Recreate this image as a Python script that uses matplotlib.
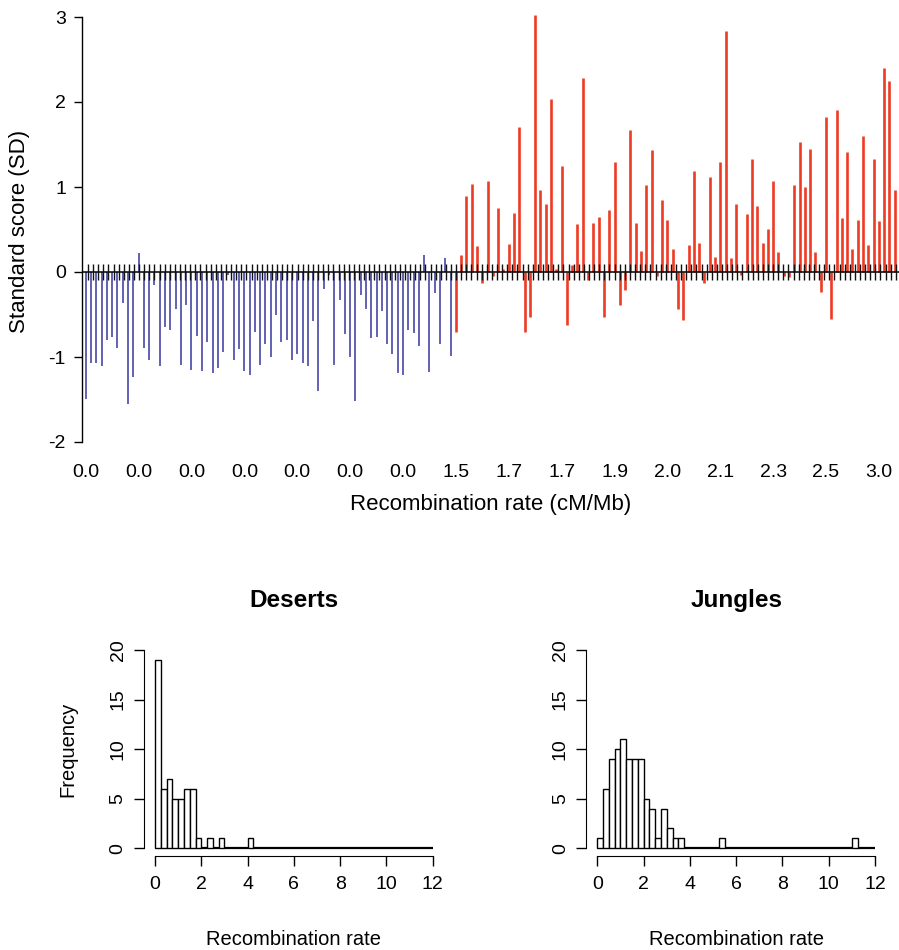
import matplotlib
matplotlib.use('Agg')
import matplotlib.pyplot as plt
import numpy as np

plt.rcParams['font.family'] = ['Liberation Sans', 'DejaVu Sans']

# standard scores, blue group (low recombination) then red group
blue_scores = [-1.49, -1.07, -1.07, -1.11, -0.80, -0.77, -0.89, -0.37, -1.55, -1.24,
               0.22, -0.89, -1.04, -0.15, -1.11, -0.65, -0.68, -0.43, -1.09, -0.39,
               -1.15, -0.75, -1.16, -0.82, -1.19, -1.13, -0.94, -0.03, -1.04, -0.90,
               -1.16, -1.21, -0.70, -1.09, -0.85, -1.00, -0.51, -0.82, -0.80, -1.04,
               -0.96, -1.07, -1.11, -0.58, -1.40, -0.20, -0.03, -1.09, -0.33, -0.73,
               -1.00, -1.52, -0.27, -0.44, -0.78, -0.77, -0.46, -0.85, -0.97, -1.19,
               -1.21, -0.68, -0.72, -0.87, 0.20, -1.18, -0.25, -0.85, 0.17, -0.99]
red_scores = [-0.70, 0.20, 0.89, 1.04, 0.31, -0.13, 1.07, -0.05, 0.75, 0.03,
              0.33, 0.70, 1.71, -0.71, -0.53, 3.02, 0.97, 0.80, 2.04, 0.03,
              1.25, -0.62, 0.08, 0.56, 2.28, -0.09, 0.58, 0.65, -0.53, 0.73,
              1.29, -0.39, -0.21, 1.67, 0.58, 0.25, 1.02, 1.43, -0.05, 0.85,
              0.61, 0.27, -0.43, -0.56, 0.32, 1.19, 0.34, -0.13, 1.12, 0.18,
              1.29, 2.83, 0.17, 0.80, -0.03, 0.68, 1.33, 0.78, 0.34, 0.51,
              1.07, 0.24, -0.05, -0.06, 1.02, 1.53, 1.00, 1.45, 0.24, -0.24,
              1.82, -0.55, 1.91, 0.63, 1.41, 0.27, 0.61, 1.60, 0.32, 1.33,
              0.60, 2.40, 2.25, 0.97]
rate_labels = ['0.0', '0.0', '0.0', '0.0', '0.0', '0.0', '0.0', '1.5',
               '1.7', '1.7', '1.9', '2.0', '2.1', '2.3', '2.5', '3.0']
label_every = 10
n_zero_ticks = 159

# histograms: counts per 0.25 bin from 0 to 12
bin_width = 0.25
desert_counts = [19, 6, 7, 5, 5, 6, 6, 1, 0, 1, 0, 1, 0, 0, 0, 0, 1] + [0] * 31
jungle_counts = ([1, 6, 9, 10, 11, 9, 9, 9, 5, 4, 1, 4, 2, 1, 1]
                 + [0] * 6 + [1] + [0] * 22 + [1] + [0] * 3)

W, H = 899, 950
fig = plt.figure(figsize=(W / 100, H / 100), dpi=100)


def frac(x0, y0, x1, y1):
    return [x0 / W, 1 - y1 / H, (x1 - x0) / W, (y1 - y0) / H]


# ---- top panel
ax = fig.add_axes(frac(82, 4.25, 899, 459))
xb = np.arange(len(blue_scores))
xr = np.arange(len(blue_scores), len(blue_scores) + len(red_scores))
ax.vlines(xb, 0, blue_scores, color='#3f3fa0', lw=1.15, zorder=2)
ax.vlines(xr, 0, red_scores, color='#ef3a24', lw=1.9, zorder=2)
ax.axhline(0, color='black', lw=1.1, zorder=3)
n_bars = len(blue_scores) + len(red_scores)
tick_x = np.linspace(0.43, n_bars - 0.8, n_zero_ticks)
ax.plot(tick_x, np.zeros_like(tick_x), ls='none', marker='|', ms=11.5,
        mew=1.0, color='#111111', zorder=3)
ax.set_xlim(-0.7, n_bars - 0.2)
ax.set_ylim(-2.2, 3.15)

ax.set_xticks(np.arange(0, n_bars, label_every)[:len(rate_labels)])
ax.set_xticklabels(rate_labels)
ax.tick_params(axis='x', length=0, pad=3.8, labelsize=14)
yt = [-2, -1, 0, 1, 2, 3]
ax.set_yticks(yt)
ax.set_yticklabels([str(v) for v in yt])
ax.tick_params(axis='y', length=5.8, width=1, pad=5.8, labelsize=14)
for s in ['top', 'right', 'bottom']:
    ax.spines[s].set_visible(False)
ax.spines['left'].set_bounds(-2, 3)
ax.spines['left'].set_linewidth(1)

ax.set_xlabel('Recombination rate (cM/Mb)', fontsize=16)
ax.xaxis.set_label_coords(0.5, -0.1)
ax.xaxis.label.set_va('center')
ax.set_ylabel('Standard score (SD)', fontsize=16)
ax.yaxis.set_label_coords(-0.077, 0.5)
ax.yaxis.label.set_va('center')

# ---- histograms
edges = np.arange(len(desert_counts)) * bin_width
panels = [(143.9, 'Deserts', desert_counts, True),
          (586.2, 'Jungles', jungle_counts, False)]
for x0, title, counts, show_ylab in panels:
    hx = fig.add_axes(frac(x0, 642.1, x0 + 299.9, 856.2))
    widths = [1.6 if c == 0 else 1.0 for c in counts]
    hx.bar(edges, counts, width=bin_width, align='edge', color='white',
           edgecolor='black', lw=widths)
    hx.set_xlim(-0.48, 12.48)
    hx.set_ylim(-0.8, 20.8)
    hx.set_xticks(range(0, 13, 2))
    hx.set_yticks(range(0, 21, 5))
    for s in ['top', 'right']:
        hx.spines[s].set_visible(False)
    hx.spines['left'].set_bounds(0, 20)
    hx.spines['bottom'].set_bounds(0, 12)
    hx.tick_params(axis='both', length=7.5, width=1, labelsize=14)
    hx.tick_params(axis='x', pad=6.5)
    hx.tick_params(axis='y', pad=5, labelrotation=90)
    for t in hx.get_yticklabels():
        t.set_va('center')
    hx.set_title(title, fontsize=17.5, fontweight='bold', y=1.162, pad=0)
    hx.set_xlabel('Recombination rate', fontsize=14.5)
    hx.xaxis.set_label_coords(0.5, -0.39)
    hx.xaxis.label.set_va('center')
    if show_ylab:
        hx.set_ylabel('Frequency', fontsize=14.5)
        hx.yaxis.set_label_coords(-0.253, 0.5)
        hx.yaxis.label.set_va('center')

fig.savefig('out.png', dpi=100)
